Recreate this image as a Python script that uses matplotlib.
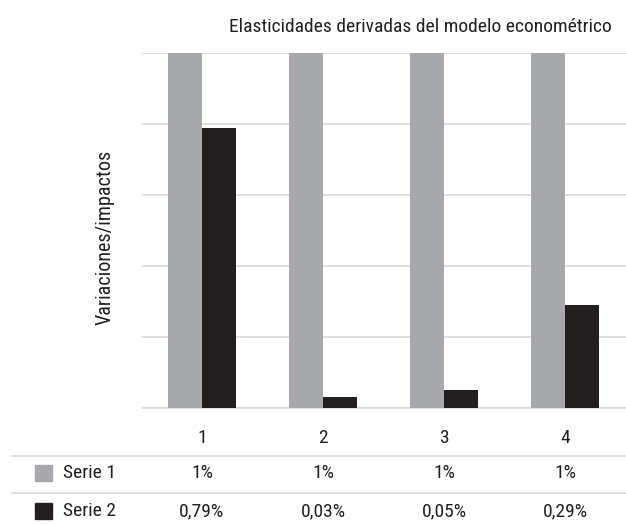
import matplotlib
matplotlib.use("Agg")
from matplotlib import pyplot as plt
from matplotlib.patches import Rectangle
from matplotlib.transforms import blended_transform_factory
import numpy as np

plt.rcParams['font.family'] = ['Roboto Condensed', 'Open Sans Condensed',
                               'Liberation Sans Narrow', 'Lato', 'DejaVu Sans']

# data
categories = ["1", "2", "3", "4"]
series_names = ["Serie 1", "Serie 2"]
serie1 = [1.0, 1.0, 1.0, 1.0]
serie2 = [0.79, 0.03, 0.05, 0.29]
serie1_labels = ["1%", "1%", "1%", "1%"]
serie2_labels = ["0,79%", "0,03%", "0,05%", "0,29%"]
colors = ["#a7a8ab", "#231f20"]
txt = "#231f20"
fs = 14

W, H = 626, 524
fig = plt.figure(figsize=(W / 100, H / 100), dpi=100)
ax = fig.add_axes([141.5 / W, (H - 408) / H, 484 / W, 355 / H])

x = np.arange(len(categories))
bw = 0.285
ax.bar(x - bw / 2, serie1, bw, color=colors[0], zorder=3)
ax.bar(x + bw / 2, serie2, bw, color=colors[1], zorder=3)

ax.set_xlim(-0.5, len(categories) - 0.5)
ax.set_ylim(0, 1.0)
ax.set_yticks(np.linspace(0, 1.0, 6))
ax.set_yticklabels([])
ax.tick_params(axis="y", length=0)
ax.grid(axis="y", color="#d9d9d9", linewidth=1.2, zorder=0)
for s in ["top", "right", "left"]:
    ax.spines[s].set_visible(False)
ax.spines["bottom"].set_color("#d9d9d9")
ax.spines["bottom"].set_linewidth(1.2)
ax.set_xticks(x)
ax.set_xticklabels(categories, fontsize=fs, color=txt)
ax.tick_params(axis="x", length=0, pad=15)

fig.text(105 / W, 1 - 237 / H, "Variaciones/impactos", rotation=90,
         ha="center", va="center", fontsize=fs + 0.5, color=txt)
fig.text(612 / W, 1 - 27 / H, "Elasticidades derivadas del modelo econométrico",
         ha="right", va="center", fontsize=fs, color=txt)

# table below the chart
trans = blended_transform_factory(ax.transData, fig.transFigure)
row_y = [1 - 473 / H, 1 - 511 / H]
for yy, name, labels, c in zip(row_y, series_names, [serie1_labels, serie2_labels], colors):
    fig.patches.append(Rectangle((35 / W, yy - 8 / H), 17 / W, 16 / H,
                                 transform=fig.transFigure, color=c))
    fig.text(63 / W, yy, name, ha="left", va="center", fontsize=fs, color=txt)
    for xi, lab in zip(x, labels):
        ax.text(xi, yy, lab, transform=trans, ha="center", va="center",
                fontsize=fs, color=txt)

for ly in [1 - 456 / H, 1 - 493 / H]:
    fig.add_artist(plt.Line2D([12 / W, 1], [ly, ly], transform=fig.transFigure,
                              color="#d9d9d9", linewidth=1.2))

fig.savefig("out.png", dpi=100)
